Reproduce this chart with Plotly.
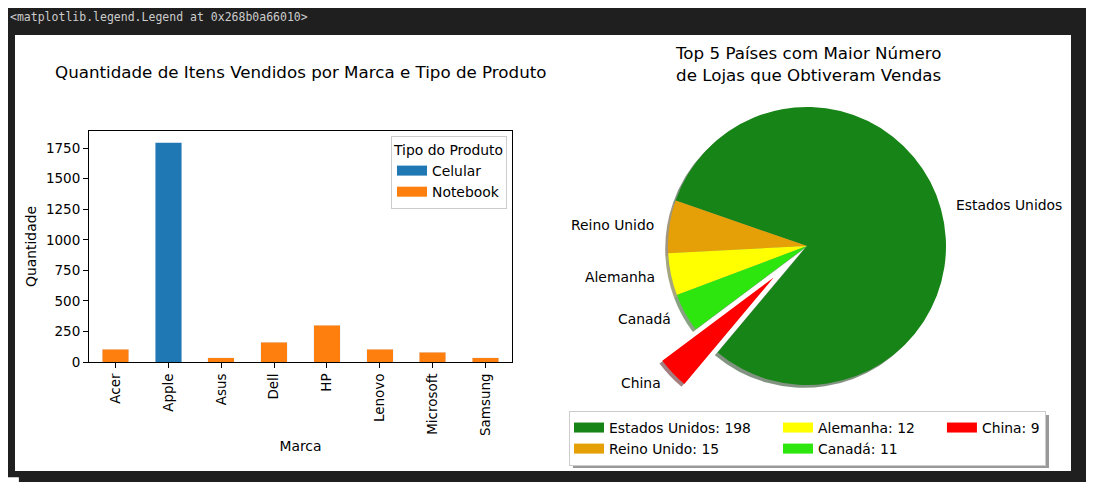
import numpy as np
import plotly.graph_objects as go

# dados - grafico de barras
marcas = ["Acer", "Apple", "Asus", "Dell", "HP", "Lenovo", "Microsoft", "Samsung"]
celular = [0, 1800, 0, 0, 0, 0, 0, 0]
notebook = [106, 0, 33, 163, 302, 106, 80, 33]
yticks = [0, 250, 500, 750, 1000, 1250, 1500, 1750]

# dados - grafico de pizza
paises = ["Estados Unidos", "Reino Unido", "Alemanha", "Canadá", "China"]
lojas = [198, 15, 12, 11, 9]
cores = ["#178417", "#E5A007", "#FFFF00", "#2CE60D", "#FF0000"]
explode = [0, 0, 0, 0, 0.33]
grupos = ["c1", "c1", "c2", "c2", "c3"]

# a pagina tem margem de 8px no body -> figura um pouco menor e coordenadas deslocadas
OFF = 8
W, H = 1094 - OFF, 482 - OFF
FS = 13.9
PAD = "\u00a0" * 5


def px(x):
    return (x - OFF) / W


def py(y):
    return 1 - (y - OFF) / H


def sombra(c):
    r, g, b = int(c[1:3], 16), int(c[3:5], 16), int(c[5:7], 16)
    return "rgba(%d,%d,%d,0.5)" % (r * 0.3, g * 0.3, b * 0.3)


fig = go.Figure()

# barras empilhadas
fig.add_trace(go.Bar(x=marcas, y=celular, name="Celular", marker_color="#1f77b4",
                     width=0.5, showlegend=False))
fig.add_trace(go.Bar(x=marcas, y=notebook, name="Notebook", marker_color="#ff7f0e",
                     width=0.5, showlegend=False))

# legenda das barras (simbolos retangulares)
for nome, cor in [("Celular", "#1f77b4"), ("Notebook", "#ff7f0e")]:
    fig.add_trace(go.Scatter(x=[None], y=[None], mode="lines", name=nome,
                             line=dict(color=cor, width=10),
                             xaxis="x3", yaxis="y3", legend="legend"))

# pizza: sombra + pizza principal
cx, cy, r = 807, 246, 139
start = 230  # angulo inicial (graus, anti-horario a partir do eixo x)
tot = sum(lojas)
rot = 90 - start - 360 * lojas[0] / tot
half = r * (1 + max(explode))
d = 2.8
fig.add_trace(go.Pie(
    labels=paises, values=lojas, sort=False, direction="counterclockwise",
    rotation=rot, pull=explode, textinfo="none", hoverinfo="skip",
    marker=dict(colors=[sombra(c) for c in cores], line=dict(width=0)),
    domain=dict(x=[px(cx - half - d), px(cx + half - d)],
                y=[py(cy + half + d), py(cy - half + d)]),
    showlegend=False))
fig.add_trace(go.Pie(
    labels=paises, values=lojas, sort=False, direction="counterclockwise",
    rotation=rot, pull=explode, textinfo="none",
    marker=dict(colors=cores, line=dict(width=0)),
    domain=dict(x=[px(cx - half), px(cx + half)], y=[py(cy + half), py(cy - half)]),
    showlegend=False))

# rotulos da pizza (como no matplotlib: 1.1 * raio a partir do centro deslocado)
cum = np.cumsum([0] + lojas)
rotulos = []
for i, p in enumerate(paises):
    mid = np.radians(start + 360 * (cum[i] + cum[i + 1]) / 2 / tot)
    dist = r * (1.1 + explode[i])
    lx = cx + dist * np.cos(mid)
    ly = cy - dist * np.sin(mid)
    rotulos.append(dict(text=p, xref="paper", yref="paper", x=px(lx), y=py(ly),
                        xanchor="left" if np.cos(mid) > 0 else "right",
                        yanchor="middle", showarrow=False, font=dict(size=FS)))

# legenda da pizza
for p, v, c, g in zip(paises, lojas, cores, grupos):
    nome = f"{p}: {v}" + (PAD if g != "c3" else "")
    fig.add_trace(go.Scatter(x=[None], y=[None], mode="lines", name=nome,
                             line=dict(color=c, width=10), legendgroup=g,
                             xaxis="x3", yaxis="y3", legend="legend2"))

fig.update_layout(
    width=W, height=H,
    margin=dict(l=0, r=0, t=0, b=0, autoexpand=False),
    paper_bgcolor="#1f1f1f",
    plot_bgcolor="white",
    barmode="stack",
    font=dict(family="DejaVu Sans", size=FS, color="black"),
    xaxis=dict(domain=[px(89), px(512)], type="category", categoryarray=marcas,
               range=[-0.5, 7.5], showline=True, mirror=True, linecolor="black",
               linewidth=1, ticks="outside", ticklen=5, tickcolor="black",
               tickangle=-90, showgrid=False, tickfont=dict(size=13.5),
               title=dict(text="Marca", standoff=6, font=dict(size=FS)),
               anchor="y", automargin=False),
    yaxis=dict(domain=[py(362), py(131)], range=[0, 1890], tickvals=yticks,
               showline=True, mirror=True, linecolor="black", linewidth=1,
               ticks="outside", ticklen=5, tickcolor="black", showgrid=False,
               zeroline=False, tickfont=dict(size=13.5),
               title=dict(text="Quantidade", standoff=6, font=dict(size=FS)),
               anchor="x", automargin=False),
    xaxis3=dict(visible=False, domain=[0, 0.01]),
    yaxis3=dict(visible=False, domain=[0, 0.01]),
    legend=dict(x=px(507), xanchor="right", y=py(136), yanchor="top",
                bgcolor="white", bordercolor="#cccccc", borderwidth=1,
                title=dict(text="Tipo do Produto", font=dict(size=FS)),
                font=dict(size=FS), traceorder="normal"),
    legend2=dict(x=px(569), xanchor="left", y=py(411), yanchor="top",
                 orientation="h", traceorder="grouped", bgcolor="white",
                 bordercolor="#cccccc", borderwidth=1, font=dict(size=FS),
                 tracegroupgap=0),
    shapes=[
        dict(type="rect", xref="paper", yref="paper", layer="below",
             x0=px(15), x1=px(1071), y0=py(471), y1=py(35),
             fillcolor="white", line=dict(width=0)),
        # sombra da legenda da pizza
        dict(type="rect", xref="paper", yref="paper", layer="above",
             x0=px(573), x1=px(1049), y0=py(468), y1=py(415),
             fillcolor="rgba(0,0,0,0.4)", line=dict(width=0)),
    ],
    annotations=[
        dict(text="&lt;matplotlib.legend.Legend at 0x268b0a66010&gt;",
             xref="paper", yref="paper", x=0, y=1, xanchor="left",
             yanchor="top", showarrow=False,
             font=dict(family="DejaVu Sans Mono", size=11.5, color="#cccccc")),
        dict(text="Quantidade de Itens Vendidos por Marca e Tipo de Produto",
             xref="paper", yref="paper", x=px(300), y=py(72), showarrow=False,
             xanchor="center", yanchor="middle", font=dict(size=16.7)),
        dict(text="Top 5 Países com Maior Número<br>de Lojas que Obtiveram Vendas",
             xref="paper", yref="paper", x=px(808), y=py(64), showarrow=False,
             xanchor="center", yanchor="middle", font=dict(size=16.7)),
    ] + rotulos,
)

fig.write_html("out.html")
